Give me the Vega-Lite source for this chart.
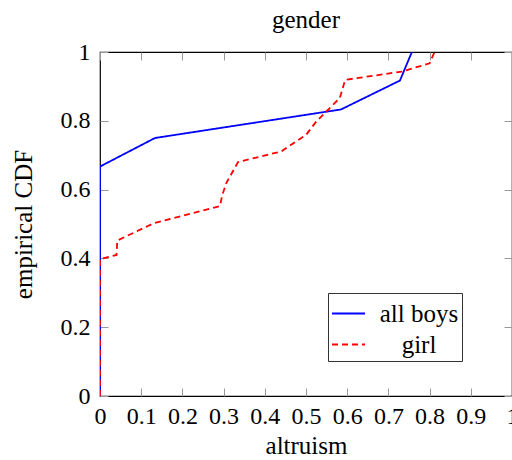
{
  "$schema": "https://vega.github.io/schema/vega-lite/v6.json",
  "width": 412,
  "height": 344,
  "autosize": {"type": "none"},
  "padding": {"left": 100, "top": 52, "right": 0, "bottom": 64},
  "background": "white",
  "config": {
    "font": "Liberation Serif",
    "view": {"stroke": "black", "strokeWidth": 1.2},
    "axis": {
      "labelFont": "Liberation Serif",
      "titleFont": "Liberation Serif",
      "labelFontSize": 24,
      "titleFontSize": 25,
      "titleFontWeight": "normal",
      "labelColor": "black",
      "titleColor": "black",
      "grid": false,
      "domain": false,
      "tickColor": "#999999",
      "tickSize": -8,
      "tickWidth": 1
    }
  },
  "title": {
    "text": "gender",
    "font": "Liberation Serif",
    "fontSize": 25,
    "fontWeight": "normal",
    "color": "black",
    "offset": 7
  },
  "data": {
    "values": [
      {"series": "all boys", "i": 0, "x": 0, "y": 0},
      {"series": "all boys", "i": 1, "x": 0, "y": 0.667},
      {"series": "all boys", "i": 2, "x": 0.1335, "y": 0.75},
      {"series": "all boys", "i": 3, "x": 0.585, "y": 0.833},
      {"series": "all boys", "i": 4, "x": 0.728, "y": 0.917},
      {"series": "all boys", "i": 5, "x": 0.757, "y": 1.0},
      {"series": "girl", "i": 0, "x": 0, "y": 0},
      {"series": "girl", "i": 1, "x": 0, "y": 0.398},
      {"series": "girl", "i": 2, "x": 0.04, "y": 0.41},
      {"series": "girl", "i": 3, "x": 0.042, "y": 0.452},
      {"series": "girl", "i": 4, "x": 0.13, "y": 0.502},
      {"series": "girl", "i": 5, "x": 0.291, "y": 0.552},
      {"series": "girl", "i": 6, "x": 0.297, "y": 0.585},
      {"series": "girl", "i": 7, "x": 0.307, "y": 0.62},
      {"series": "girl", "i": 8, "x": 0.335, "y": 0.68},
      {"series": "girl", "i": 9, "x": 0.44, "y": 0.711},
      {"series": "girl", "i": 10, "x": 0.5, "y": 0.759},
      {"series": "girl", "i": 11, "x": 0.525, "y": 0.798},
      {"series": "girl", "i": 12, "x": 0.582, "y": 0.866},
      {"series": "girl", "i": 13, "x": 0.595, "y": 0.919},
      {"series": "girl", "i": 14, "x": 0.732, "y": 0.943},
      {"series": "girl", "i": 15, "x": 0.8, "y": 0.967},
      {"series": "girl", "i": 16, "x": 0.812, "y": 1.0}
    ]
  },
  "layer": [
    {
      "mark": {"type": "line", "strokeWidth": 1.8, "clip": true},
      "encoding": {
        "x": {
          "field": "x", "type": "quantitative",
          "scale": {"domain": [0, 1], "nice": false, "zero": false},
          "axis": {"title": "altruism", "values": [0,0.1,0.2,0.3,0.4,0.5,0.6,0.7,0.8,0.9,1], "format": "~g", "labelPadding": 16, "titlePadding": 5, "labelFlush": false}
        },
        "y": {
          "field": "y", "type": "quantitative",
          "scale": {"domain": [0, 1], "nice": false},
          "axis": {"title": "empirical CDF", "values": [0,0.2,0.4,0.6,0.8,1], "format": "~g", "labelPadding": 18, "titlePadding": 24, "labelFlush": false}
        },
        "order": {"field": "i", "type": "quantitative"},
        "color": {
          "field": "series", "type": "nominal",
          "scale": {"domain": ["all boys", "girl"], "range": ["#0000ff", "#ff0000"]},
          "legend": {
            "title": null,
            "orient": "none",
            "legendX": 228,
            "legendY": 241,
            "symbolType": "stroke",
            "symbolSize": 1089,
            "symbolStrokeWidth": 1.8,
            "labelFont": "Liberation Serif",
            "labelFontSize": 25,
            "labelColor": "black",
            "labelAlign": "center",
            "labelOffset": 53,
            "strokeColor": "#333333",
            "fillColor": "white",
            "padding": 3,
            "rowPadding": -2
          }
        },
        "strokeDash": {
          "field": "series", "type": "nominal",
          "scale": {"domain": ["all boys", "girl"], "range": [[1, 0], [6, 4]]},
          "legend": null
        }
      }
    },
    {
      "mark": {"type": "line", "opacity": 0, "clip": true},
      "encoding": {
        "x": {
          "field": "x", "type": "quantitative",
          "scale": {"domain": [0, 1], "nice": false, "zero": false},
          "axis": {"orient": "top", "title": null, "labels": false, "values": [0,0.1,0.2,0.3,0.4,0.5,0.6,0.7,0.8,0.9,1]}
        },
        "y": {
          "field": "y", "type": "quantitative",
          "scale": {"domain": [0, 1], "nice": false},
          "axis": {"orient": "right", "title": null, "labels": false, "values": [0,0.2,0.4,0.6,0.8,1]}
        },
        "detail": {"field": "series"},
        "order": {"field": "i", "type": "quantitative"}
      }
    }
  ],
  "resolve": {"axis": {"x": "independent", "y": "independent"}}
}
